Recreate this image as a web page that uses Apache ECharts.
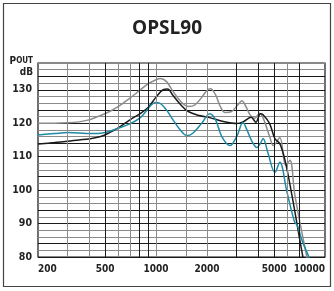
<!DOCTYPE html>
<html style="height: 100%">
<head>
  <meta charset="utf-8">
</head>
<body style="height: 100%; margin: 0">
<div id="chart" style="width: 334px; height: 291px"></div>
<script src="https://cdn.jsdelivr.net/npm/echarts@6/dist/echarts.min.js"></script>
<script type="text/javascript">
// frequency (Hz) / level (dB)
var greyCurve = [
  [200, 120.0], [250, 120.0], [300, 120.1], [350, 120.4], [400, 121.0], [470, 122.3],
  [530, 123.5], [600, 125.0], [700, 127.5], [800, 129.8], [900, 131.8], [1000, 133.0],
  [1060, 133.4], [1150, 132.5], [1260, 129.5], [1400, 126.5], [1550, 125.0], [1700, 125.5],
  [1850, 127.5], [2000, 129.8], [2100, 130.3], [2250, 128.5], [2400, 125.0], [2560, 123.2],
  [2800, 123.5], [3050, 125.5], [3220, 126.7], [3400, 125.0], [3600, 122.5], [3850, 121.5],
  [4100, 123.0], [4350, 121.0], [4700, 116.0], [4950, 113.3], [5400, 115.7], [5850, 107.4],
  [6200, 108.9], [6630, 98.5], [7810, 80.0], [8200, 76.0]
];
var blackCurve = [
  [200, 113.8], [250, 114.2], [300, 114.6], [350, 115.0], [400, 115.3], [470, 116.0],
  [530, 117.2], [600, 118.7], [700, 121.0], [800, 122.8], [900, 124.8], [1000, 127.8],
  [1100, 130.0], [1170, 130.2], [1260, 128.3], [1400, 125.5], [1550, 123.5], [1800, 122.3],
  [2100, 121.6], [2500, 120.5], [3000, 119.9], [3300, 120.5], [3650, 121.8], [3900, 120.3],
  [4150, 122.8], [4300, 122.5], [4700, 119.9], [5050, 115.4], [5400, 113.9], [5800, 108.9],
  [6370, 98.5], [7400, 80.0], [7800, 75.0]
];
var tealCurve = [
  [200, 116.5], [250, 116.9], [300, 117.2], [350, 117.1], [400, 116.9], [470, 117.0],
  [530, 117.6], [600, 118.5], [700, 119.8], [800, 121.5], [870, 123.5], [930, 125.3],
  [990, 126.2], [1050, 126.0], [1150, 124.0], [1260, 121.0], [1400, 117.8], [1520, 116.3],
  [1650, 117.0], [1850, 119.8], [2080, 122.8], [2250, 121.0], [2450, 116.0], [2740, 113.3],
  [3000, 116.0], [3270, 120.2], [3450, 118.0], [3700, 114.5], [3950, 112.7], [4150, 114.0],
  [4300, 115.4], [4600, 111.0], [5050, 105.3], [5400, 108.3], [5950, 99.5], [6600, 90.5],
  [6850, 89.5], [7300, 85.0], [8100, 79.5], [8400, 77.0]
];
var freqLabels = [200, 500, 1000, 2000, 5000, 10000];
var gridDark = [500, 800, 900, 3000, 4000, 5000, 7000];
var gridLight = [300, 400, 600, 700, 1000, 1500, 2000, 6000];

var tickFont = "'Liberation Sans Narrow', 'DejaVu Sans Condensed', sans-serif";

var vLines = [];
gridDark.forEach(function (f) {
  vLines.push({ xAxis: f, lineStyle: { color: '#1a1a1a', width: 1, type: 'solid' } });
});
gridLight.forEach(function (f) {
  vLines.push({ xAxis: f, lineStyle: { color: '#8a8a8a', width: 1, type: 'solid' } });
});

var myChart = echarts.init(document.getElementById('chart'));
var option = {
  animation: false,
  title: {
    text: 'OPSL90',
    left: 'center',
    top: 14,
    textStyle: { fontFamily: "'Open Sans', sans-serif", fontWeight: 'bold', fontSize: 19, color: '#222' }
  },
  graphic: [
    {
      type: 'rect',
      shape: { x: 3.5, y: 3.5, width: 327, height: 283 },
      style: { fill: null, stroke: '#444', lineWidth: 1.2 }
    },
    {
      type: 'text',
      right: 301,
      top: 56,
      style: {
        text: '{a|P}{b|OUT}\n{c|dB}',
        align: 'right',
        rich: {
          a: { fontFamily: tickFont, fontWeight: 'bold', fontSize: 10, fill: '#222' },
          b: { fontFamily: tickFont, fontWeight: 'bold', fontSize: 8, fill: '#222' },
          c: { fontFamily: tickFont, fontWeight: 'bold', fontSize: 10, fill: '#222', align: 'right', lineHeight: 12 }
        }
      }
    }
  ],
  grid: {
    left: 38, right: 9, top: 63, bottom: 34,
    show: true, borderColor: '#111', borderWidth: 1.2
  },
  xAxis: {
    type: 'log',
    min: 200,
    max: 10000,
    axisLine: { show: false },
    axisTick: { show: false },
    splitLine: { show: false },
    minorSplitLine: { show: false },
    axisLabel: {
      customValues: freqLabels,
      fontFamily: tickFont, fontWeight: 'bold', fontSize: 10, color: '#222',
      margin: 7,
      alignMinLabel: 'left',
      alignMaxLabel: 'right',
      showMinLabel: true,
      showMaxLabel: true,
      formatter: function (v) { return String(Math.round(v)); }
    }
  },
  yAxis: {
    type: 'value',
    min: 80,
    max: 138,
    interval: 2,
    axisLine: { show: false },
    axisTick: { show: false },
    axisLabel: {
      fontFamily: tickFont, fontWeight: 'bold', fontSize: 10.5, color: '#222', margin: 6,
      formatter: function (v) { return v % 10 === 0 ? String(v) : ''; }
    },
    splitLine: {
      lineStyle: { color: ['#1a1a1a', '#8a8a8a', '#1a1a1a', '#8a8a8a', '#8a8a8a'], width: 1 }
    }
  },
  series: [
    {
      name: 'grey',
      type: 'line',
      z: 2,
      data: greyCurve,
      smooth: 0.35,
      symbol: 'none',
      clip: true,
      lineStyle: { color: '#8c8c8c', width: 1.5 },
      markLine: {
        silent: true,
        symbol: 'none',
        label: { show: false },
        data: vLines
      }
    },
    {
      name: 'black',
      type: 'line',
      z: 3,
      data: blackCurve,
      smooth: 0.35,
      symbol: 'none',
      clip: true,
      lineStyle: { color: '#1a1a1a', width: 1.5 }
    },
    {
      name: 'teal',
      type: 'line',
      z: 4,
      data: tealCurve,
      smooth: 0.35,
      symbol: 'none',
      clip: true,
      lineStyle: { color: '#1f8aa6', width: 1.5 }
    }
  ]
};
myChart.setOption(option);
</script>
</body>
</html>
